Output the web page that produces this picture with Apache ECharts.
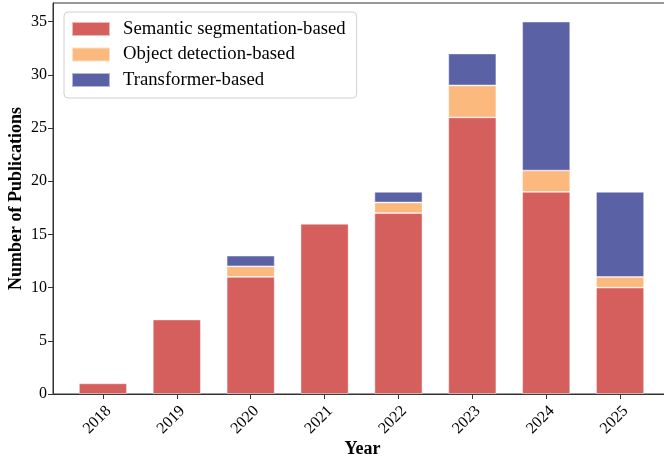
<!DOCTYPE html>
<html>
<head>
<meta charset="utf-8">
<script src="https://cdn.jsdelivr.net/npm/echarts@6/dist/echarts.min.js"></script>
<style>
  html, body { margin: 0; padding: 0; background: #fff; }
  #chart { width: 664px; height: 460px; }
</style>
</head>
<body>
<div id="chart"></div>
<script>
// publications per year, by method family
const years = ['2018', '2019', '2020', '2021', '2022', '2023', '2024', '2025'];
const semantic = [1, 7, 11, 16, 17, 26, 19, 10];
const detection = [0, 0, 1, 0, 1, 3, 2, 1];
const transformer = [0, 0, 1, 0, 1, 3, 14, 8];
const yTicks = [0, 5, 10, 15, 20, 25, 30, 35];

const serif = '"Liberation Serif", "Times New Roman", serif';
const yMax = 36.75;

function barSeries(name, arr, color) {
  return {
    name: name,
    type: 'bar',
    stack: 'total',
    xAxisIndex: 1,
    yAxisIndex: 1,
    barWidth: '65%',
    // zero-height segments are skipped so no stray edges are drawn
    data: arr.map(v => (v === 0 ? '-' : v)),
    itemStyle: {
      color: color,
      borderColor: 'rgba(255,255,255,0.55)',
      borderWidth: 0.8
    }
  };
}

let chart = echarts.init(document.getElementById('chart'));
chart.setOption({
  animation: false,
  textStyle: { fontFamily: serif },
  grid: [
    // frame: matplotlib-style axes box (right side runs past the canvas)
    {
      left: 53, right: -8, top: 3, bottom: 66,
      outerBoundsMode: 'none', containLabel: false,
      show: true, borderColor: '#333', borderWidth: 1
    },
    // data area: the 8 year bands
    {
      left: 66, right: 7, top: 3, bottom: 66,
      outerBoundsMode: 'none', containLabel: false
    }
  ],
  legend: {
    orient: 'vertical',
    left: 64, top: 12,
    padding: [7, 11, 8, 7],
    itemWidth: 38, itemHeight: 14, itemGap: 5.5,
    icon: 'rect',
    borderColor: '#d0d0d0', borderWidth: 1, borderRadius: 4,
    backgroundColor: 'rgba(255,255,255,0.85)',
    textStyle: { fontFamily: serif, fontSize: 18.7, color: '#000', padding: [0, 0, 0, 8], lineHeight: 20 },
    data: ['Semantic segmentation-based', 'Object detection-based', 'Transformer-based']
  },
  xAxis: [
    {
      gridIndex: 0,
      type: 'value', min: 0, max: 1,
      name: 'Year',
      nameLocation: 'middle',
      nameGap: 46,
      nameMoveOverlap: false,
      nameTextStyle: { fontFamily: serif, fontSize: 18, fontWeight: 'bold', color: '#000' },
      splitLine: { show: false },
      axisLine: { show: true, onZero: false, lineStyle: { color: '#333' } },
      axisTick: { show: false },
      axisLabel: { show: false }
    },
    {
      gridIndex: 1,
      type: 'category',
      data: years,
      splitLine: { show: false },
      axisLine: { show: false, onZero: false },
      axisTick: { show: true, length: 5, alignWithLabel: true, lineStyle: { color: '#333' } },
      axisLabel: {
        rotate: 45,
        margin: 9,
        interval: 0,
        verticalAlign: 'top',
        fontFamily: serif, fontSize: 16, color: '#000'
      }
    }
  ],
  yAxis: [
    {
      gridIndex: 0,
      type: 'value',
      min: 0, max: yMax,
      name: 'Number of Publications',
      nameLocation: 'middle',
      nameGap: 28,
      nameMoveOverlap: false,
      nameTextStyle: { fontFamily: serif, fontSize: 18, fontWeight: 'bold', color: '#000' },
      splitLine: { show: false },
      axisLine: { show: true, onZero: false, lineStyle: { color: '#333' } },
      axisTick: { show: true, length: 5, lineStyle: { color: '#333' }, customValues: yTicks },
      axisLabel: {
        customValues: yTicks,
        margin: 6,
        fontFamily: serif, fontSize: 16, color: '#000'
      }
    },
    {
      gridIndex: 1,
      type: 'value',
      min: 0, max: yMax,
      show: false
    }
  ],
  series: [
    barSeries('Semantic segmentation-based', semantic, '#d45f5d'),
    barSeries('Object detection-based', detection, '#fbb97e'),
    barSeries('Transformer-based', transformer, '#5b61a5')
  ]
});
</script>
</body>
</html>
